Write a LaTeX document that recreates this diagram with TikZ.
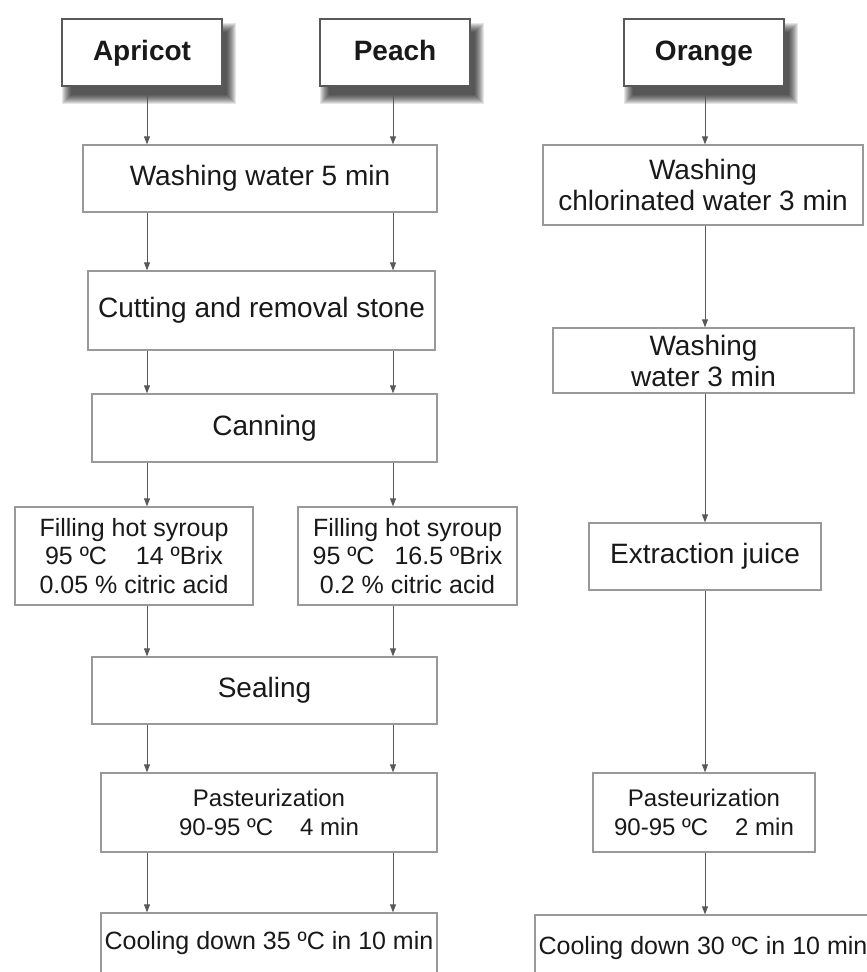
\documentclass[tikz,border=0pt]{standalone}
\usepackage{fontspec}
\setmainfont{Liberation Sans}
\usetikzlibrary{arrows.meta,calc,backgrounds}
\begin{document}
\begin{tikzpicture}[x=1pt,y=-1pt,
  box/.style={draw=black!40, line width=1.3pt, fill=white, inner sep=0pt, align=center, text=black!90},
  fruit/.style={box, draw=black!65, text height=20pt, text depth=5pt, font=\fontsize{28}{32}\selectfont\bfseries},
  big/.style={font=\fontsize{28}{31}\selectfont},
  mid/.style={font=\fontsize{25}{28.5}\selectfont},
  sm/.style={font=\fontsize{24}{29}\selectfont},
  arr/.style={draw=black!65, line width=0.9pt, -{Triangle[length=8pt,width=6pt]}}]
\useasboundingbox (0,0) rectangle (867,972);
% x positions of the connectors
\coordinate (xL) at (147,0);
\coordinate (xR) at (393,0);
\coordinate (xO) at (705,0);
% top boxes
\node[fruit, minimum width=160pt, minimum height=67pt] (ap) at (142,52.5) {Apricot};
\node[fruit, minimum width=150pt, minimum height=67pt] (pe) at (395,52.5) {Peach};
\node[fruit, minimum width=160pt, minimum height=67pt] (or) at (704,52.5) {Orange};
% left column
\node[box, big, minimum width=354pt, minimum height=67pt] (w5) at (260,178.5) {Washing water 5 min};
\node[box, big, minimum width=347pt, minimum height=79pt] (cut) at (261.5,310.5) {Cutting and removal stone};
\node[box, big, minimum width=345pt, minimum height=68pt] (can) at (264.5,428) {Canning};
\node[box, mid, minimum width=238pt, minimum height=98pt] (fa) at (134,556) {Filling hot syroup\\95 ºC\hspace{29pt}14 ºBrix\\0.05 \% citric acid};
\node[box, mid, minimum width=219pt, minimum height=98pt] (fp) at (407.5,556) {Filling hot syroup\\95 ºC\hspace{20pt}16.5 ºBrix\\0.2 \% citric acid};
\node[box, big, minimum width=345pt, minimum height=67pt] (seal) at (264.5,690.5) {Sealing};
\node[box, sm, minimum width=336pt, minimum height=79pt] (pl) at (269,812.5) {Pasteurization\\90-95 ºC\hspace{27pt}4 min};
\node[box, mid, minimum width=336pt, minimum height=60pt] (cl) at (269,943) {Cooling down 35 ºC in 10 min};
% right column
\node[box, big, minimum width=320pt, minimum height=80pt] (wc) at (703,185) {Washing\\chlorinated water 3 min};
\node[box, big, minimum width=301pt, minimum height=65pt] (w3) at (703.5,360.5) {Washing\\water 3 min};
\node[box, big, minimum width=232pt, minimum height=67pt] (ex) at (705,556.5) {Extraction juice};
\node[box, sm, minimum width=222pt, minimum height=79pt] (pr) at (704,812.5) {Pasteurization\\90-95 ºC\hspace{27pt}2 min};
\node[box, mid, minimum width=336pt, minimum height=66pt] (cr) at (703,948) {Cooling down 30 ºC in 10 min};
% shadows of top boxes
\begin{scope}[on background layer]
\foreach \n in {ap,pe,or}{
  \foreach \r in {-3,...,6}{
    \fill[black, opacity=0.1] ($(\n.north west)+(7-\r,11-\r)$) rectangle ($(\n.south east)+(7+\r,11+\r)$);
  }}
\end{scope}
% connectors, left
\draw[arr] (ap.south -| xL) -- (w5.north -| xL);
\draw[arr] (pe.south -| xR) -- (w5.north -| xR);
\draw[arr] (w5.south -| xL) -- (cut.north -| xL);
\draw[arr] (w5.south -| xR) -- (cut.north -| xR);
\draw[arr] (cut.south -| xL) -- (can.north -| xL);
\draw[arr] (cut.south -| xR) -- (can.north -| xR);
\draw[arr] (can.south -| xL) -- (fa.north -| xL);
\draw[arr] (can.south -| xR) -- (fp.north -| xR);
\draw[arr] (fa.south -| xL) -- (seal.north -| xL);
\draw[arr] (fp.south -| xR) -- (seal.north -| xR);
\draw[arr] (seal.south -| xL) -- (pl.north -| xL);
\draw[arr] (seal.south -| xR) -- (pl.north -| xR);
\draw[arr] (pl.south -| xL) -- (cl.north -| xL);
\draw[arr] (pl.south -| xR) -- (cl.north -| xR);
% connectors, right
\draw[arr] (or.south -| xO) -- (wc.north -| xO);
\draw[arr] (wc.south -| xO) -- (w3.north -| xO);
\draw[arr] (w3.south -| xO) -- (ex.north -| xO);
\draw[arr] (ex.south -| xO) -- (pr.north -| xO);
\draw[arr] (pr.south -| xO) -- (cr.north -| xO);
\end{tikzpicture}
\end{document}
